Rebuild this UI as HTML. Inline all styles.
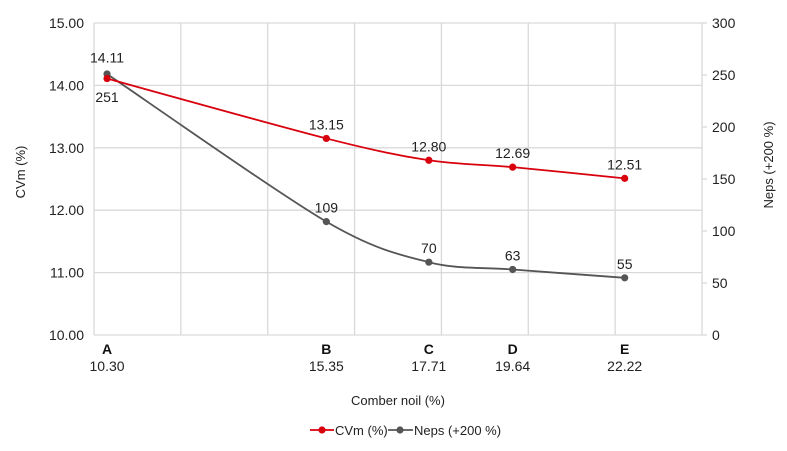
<!DOCTYPE html>
<html><head><meta charset="utf-8"><style>
body{margin:0;background:#fff;}
svg{display:block;font-family:"Liberation Sans",sans-serif;}
</style></head><body>
<svg id="c" width="787" height="451"></svg>
<script>
const categories=["A","B","C","D","E"];
const noil=[10.30,15.35,17.71,19.64,22.22];
const cvm=[14.11,13.15,12.80,12.69,12.51];
const neps=[251,109,70,63,55];
const leftTicks=[10,11,12,13,14,15];
const rightTicks=[0,50,100,150,200,250,300];
const xGrid=[10,12,14,16,18,20,22,24];

const X0=94,X1=702,Y0=335,Y1=23;
const sx=v=>X0+(v-10)/(24-10)*(X1-X0);
const sl=v=>Y0-(v-10)/(15-10)*(Y0-Y1);
const sr=v=>Y0-v/300*(Y0-Y1);
const svg=document.getElementById('c');
const NS='http://www.w3.org/2000/svg';
function mk(tag,attrs,txt){const e=document.createElementNS(NS,tag);for(const k in attrs)e.setAttribute(k,attrs[k]);if(txt!==undefined)e.textContent=txt;svg.appendChild(e);return e;}

leftTicks.forEach(t=>{
 const g=mk('line',{x1:X0,x2:X1,y1:sl(t),y2:sl(t),stroke:'#d9d9d9','stroke-width':1.3});
 
 
 const l=mk('text',{x:84,y:sl(t)+5,'text-anchor':'end','font-size':14,fill:'#222'},t.toFixed(2));
 
 
});
xGrid.forEach(t=>{
 const g=mk('line',{x1:sx(t),x2:sx(t),y1:Y1,y2:Y0,stroke:'#d9d9d9','stroke-width':1.3});
 
 
});
rightTicks.forEach(t=>{
 const tk=mk('line',{x1:X1,x2:X1+5,y1:sr(t),y2:sr(t),stroke:'#d9d9d9','stroke-width':1.3});
 
 
 const l=mk('text',{x:712,y:sr(t)+5,'font-size':14,fill:'#222'},String(t));
 
 
});
categories.forEach((c,i)=>{
 const a=mk('text',{x:sx(noil[i]),y:354,'text-anchor':'middle','font-size':14,'font-weight':'bold',fill:'#111'},c);
 
 
 const b=mk('text',{x:sx(noil[i]),y:371,'text-anchor':'middle','font-size':14,fill:'#222'},noil[i].toFixed(2));
 
 
});
function smooth(pts){
 let d='M'+pts[0][0]+','+pts[0][1];
 const t=0.3;
 for(let i=0;i<pts.length-1;i++){
  const p0=pts[i-1]||pts[i],p1=pts[i],p2=pts[i+1],p3=pts[i+2]||p2;
  const c1=[p1[0]+(p2[0]-p0[0])*t/ (i===0?1:1)*0.5*2/2, p1[1]+(p2[1]-p0[1])*t/2*1];
  const c2=[p2[0]-(p3[0]-p1[0])*t/2*1, p2[1]-(p3[1]-p1[1])*t/2*1];
  c1[0]=p1[0]+(p2[0]-p0[0])*t/2;
  d+=' C'+c1[0]+','+c1[1]+' '+c2[0]+','+c2[1]+' '+p2[0]+','+p2[1];
 }
 return d;
}
function series(vals,sy,color,name){
 const pts=vals.map((v,i)=>[sx(noil[i]),sy(v)]);
 const p=mk('path',{d:smooth(pts),fill:'none',stroke:color,'stroke-width':1.8});
 
 
 pts.forEach(q=>{
  const c=mk('circle',{cx:q[0],cy:q[1],r:3.6,fill:color});
  
  
 });
 return pts;
}
const np=series(neps,sr,'#555','neps');
const cp=series(cvm,sl,'#d9000d','cvm');
cp.forEach((q,i)=>{
 const l=mk('text',{x:q[0],y:(i===0?q[1]-16:q[1]-9),'text-anchor':'middle','font-size':14,fill:'#222'},cvm[i].toFixed(2));
 
 
});
np.forEach((q,i)=>{
 const l=mk('text',{x:q[0],y:(i===0?q[1]+28:q[1]-9),'text-anchor':'middle','font-size':14,fill:'#222'},String(neps[i]));
 
 
});
let t=mk('text',{x:0,y:0,'text-anchor':'middle','font-size':13,fill:'#222',transform:'translate(25,172) rotate(-90)'},'CVm (%)');


t=mk('text',{x:0,y:0,'text-anchor':'middle','font-size':13,fill:'#222',transform:'translate(773,165) rotate(-90)'},'Neps (+200 %)');


t=mk('text',{x:398,y:405,'text-anchor':'middle','font-size':13,fill:'#222'},'Comber noil (%)');


// legend
let l=mk('line',{x1:310,x2:334,y1:430,y2:430,stroke:'#d9000d','stroke-width':1.8});


l=mk('circle',{cx:322,cy:430,r:3.6,fill:'#d9000d'});


l=mk('text',{x:335,y:435,'font-size':13,fill:'#222'},'CVm (%)');


l=mk('line',{x1:388,x2:413,y1:430,y2:430,stroke:'#555','stroke-width':1.8});


l=mk('circle',{cx:400,cy:430,r:3.6,fill:'#555'});


l=mk('text',{x:414,y:435,'font-size':13,fill:'#222'},'Neps (+200 %)');


</script>
</body></html>
